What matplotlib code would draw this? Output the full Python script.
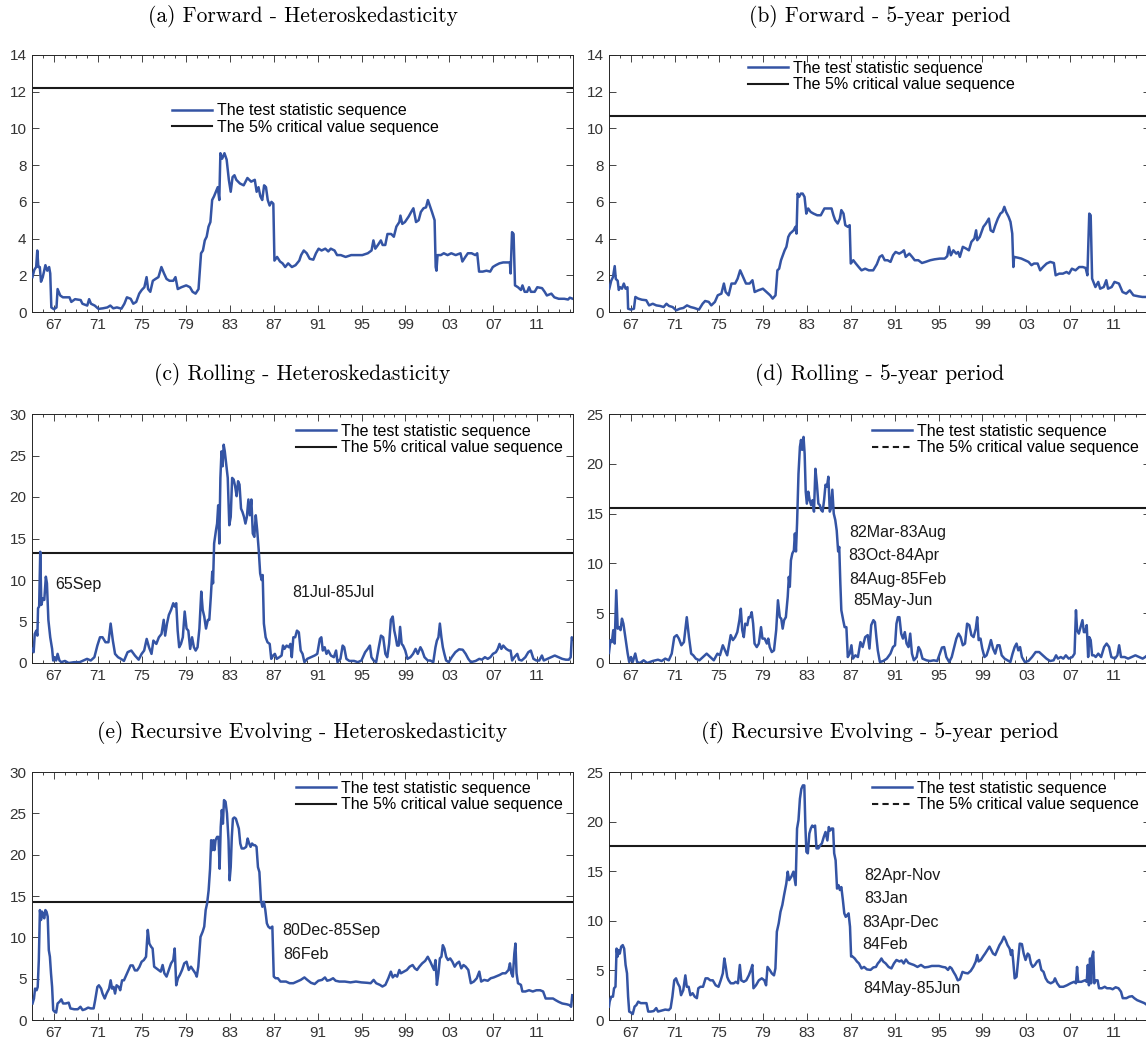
import numpy as np
import matplotlib
matplotlib.use('Agg')
from matplotlib import pyplot as plt
from matplotlib.lines import Line2D
from matplotlib.ticker import MultipleLocator, FixedLocator, FixedFormatter

plt.rcParams['font.family'] = ['Liberation Sans', 'DejaVu Sans']

# (year, statistic), one list per panel
fwd_het = [
    (1965.04, 1.9), (1965.21, 2.3), (1965.38, 2.45), (1965.48, 3.35), (1965.58, 2.45), (1965.71, 2.45), (1965.82, 1.65), (1965.98, 1.9), (1966.22, 2.55), (1966.39, 2.25),
    (1966.56, 2.45), (1966.66, 2.1), (1966.76, 0.25), (1967.0, 0.15), (1967.23, 0.25), (1967.33, 1.25), (1967.57, 0.9), (1967.81, 0.8), (1968.41, 0.8), (1968.58, 0.55),
    (1968.92, 0.7), (1969.43, 0.65), (1969.59, 0.45), (1970.03, 0.35), (1970.2, 0.7), (1970.37, 0.45), (1970.71, 0.35), (1971.05, 0.17), (1971.45, 0.2), (1971.86, 0.25),
    (1972.13, 0.35), (1972.4, 0.2), (1972.73, 0.25), (1973.14, 0.18), (1973.41, 0.45), (1973.64, 0.8), (1973.98, 0.72), (1974.22, 0.45), (1974.49, 0.55), (1974.76, 1.0),
    (1974.99, 1.2), (1975.23, 1.35), (1975.43, 1.9), (1975.57, 1.25), (1975.77, 1.1), (1976.0, 1.7), (1976.24, 1.8), (1976.51, 1.9), (1976.78, 2.45), (1977.02, 2.1),
    (1977.25, 1.8), (1977.52, 1.7), (1977.86, 1.7), (1978.06, 1.9), (1978.27, 1.25), (1978.6, 1.35), (1979.04, 1.45), (1979.38, 1.35), (1979.62, 1.1), (1979.89, 1.0),
    (1980.16, 1.25), (1980.39, 3.2), (1980.56, 3.35), (1980.73, 3.9), (1980.9, 4.1), (1981.07, 4.65), (1981.24, 4.9), (1981.4, 6.1), (1981.57, 6.3), (1981.74, 6.55),
    (1981.91, 6.8), (1982.05, 6.1), (1982.15, 8.65), (1982.31, 8.35), (1982.52, 8.65), (1982.72, 8.3), (1982.92, 7.2), (1983.09, 6.55), (1983.26, 7.35), (1983.43, 7.45),
    (1983.6, 7.2), (1983.93, 7.0), (1984.27, 6.9), (1984.61, 7.3), (1984.95, 7.1), (1985.28, 7.2), (1985.45, 6.55), (1985.62, 6.8), (1985.79, 6.3), (1985.96, 6.1),
    (1986.13, 6.9), (1986.3, 6.8), (1986.46, 6.1), (1986.63, 5.8), (1986.8, 6.0), (1986.97, 5.9), (1987.07, 2.8), (1987.31, 3.0), (1987.58, 2.75), (1987.81, 2.65),
    (1988.05, 2.45), (1988.32, 2.65), (1988.66, 2.45), (1988.99, 2.55), (1989.33, 2.8), (1989.5, 3.1), (1989.74, 3.35), (1990.01, 3.2), (1990.28, 2.9), (1990.61, 2.85),
    (1990.85, 3.2), (1991.09, 3.45), (1991.36, 3.35), (1991.7, 3.45), (1991.97, 3.3), (1992.2, 3.45), (1992.54, 3.35), (1992.77, 3.1), (1993.11, 3.1), (1993.55, 3.0),
    (1994.06, 3.1), (1994.56, 3.1), (1995.07, 3.1), (1995.57, 3.2), (1995.91, 3.35), (1996.08, 3.9), (1996.25, 3.45), (1996.49, 3.65), (1996.76, 3.9), (1996.92, 3.65),
    (1997.16, 3.65), (1997.36, 4.25), (1997.7, 4.25), (1997.94, 4.1), (1998.17, 4.65), (1998.44, 4.9), (1998.54, 5.25), (1998.71, 4.8), (1998.95, 4.9), (1999.29, 5.2),
    (1999.52, 5.45), (1999.72, 5.65), (1999.96, 4.9), (2000.2, 5.0), (2000.4, 5.45), (2000.64, 5.65), (2000.87, 5.7), (2001.04, 6.1), (2001.21, 5.8), (2001.41, 5.45),
    (2001.65, 5.0), (2001.75, 2.45), (2001.82, 2.25), (2001.92, 3.1), (2002.22, 3.1), (2002.49, 3.2), (2002.83, 3.1), (2003.17, 3.2), (2003.57, 3.1), (2004.01, 3.2),
    (2004.18, 2.75), (2004.45, 3.0), (2004.68, 3.2), (2005.02, 3.2), (2005.36, 3.1), (2005.53, 3.2), (2005.7, 2.2), (2006.03, 2.2), (2006.37, 2.25), (2006.71, 2.2),
    (2006.95, 2.45), (2007.22, 2.55), (2007.55, 2.65), (2007.89, 2.7), (2008.23, 2.7), (2008.5, 2.7), (2008.57, 2.1), (2008.7, 4.35), (2008.84, 4.25), (2008.97, 1.45),
    (2009.24, 1.35), (2009.51, 1.2), (2009.65, 1.45), (2009.85, 1.1), (2010.08, 1.1), (2010.25, 1.35), (2010.42, 1.1), (2010.76, 1.1), (2011.0, 1.35), (2011.43, 1.3),
    (2011.67, 1.1), (2011.87, 0.9), (2012.28, 1.0), (2012.55, 0.8), (2012.95, 0.72), (2013.46, 0.72), (2013.8, 0.68), (2013.96, 0.78), (2014.23, 0.72),
]

fwd_5y = [
    (1965.03, 1.27), (1965.2, 1.7), (1965.36, 1.9), (1965.52, 2.5), (1965.62, 1.8), (1965.79, 1.7), (1965.89, 1.2), (1966.02, 1.35), (1966.18, 1.27), (1966.35, 1.55),
    (1966.51, 1.27), (1966.68, 1.35), (1966.74, 0.18), (1967.0, 0.13), (1967.27, 0.18), (1967.4, 0.82), (1967.66, 0.73), (1967.99, 0.67), (1968.39, 0.64), (1968.65, 0.36),
    (1968.98, 0.45), (1969.31, 0.36), (1969.64, 0.33), (1969.97, 0.27), (1970.23, 0.45), (1970.46, 0.33), (1970.79, 0.27), (1971.12, 0.09), (1971.45, 0.18), (1971.77, 0.22),
    (1972.1, 0.36), (1972.43, 0.27), (1972.76, 0.22), (1973.19, 0.13), (1973.52, 0.45), (1973.75, 0.6), (1974.08, 0.55), (1974.31, 0.36), (1974.64, 0.55), (1974.9, 0.91),
    (1975.23, 1.0), (1975.46, 1.55), (1975.62, 1.09), (1975.89, 0.91), (1976.15, 1.55), (1976.48, 1.55), (1976.71, 1.82), (1976.94, 2.27), (1977.2, 1.91), (1977.47, 1.55),
    (1977.8, 1.55), (1978.06, 1.73), (1978.26, 1.09), (1978.59, 1.18), (1979.01, 1.27), (1979.34, 1.09), (1979.67, 0.91), (1979.9, 0.73), (1980.16, 0.91), (1980.33, 2.27),
    (1980.49, 2.36), (1980.66, 2.82), (1980.82, 3.09), (1980.99, 3.36), (1981.15, 3.55), (1981.32, 4.09), (1981.48, 4.27), (1981.65, 4.36), (1981.81, 4.45), (1981.97, 4.64),
    (1982.07, 4.27), (1982.17, 6.45), (1982.3, 6.27), (1982.47, 6.45), (1982.63, 6.45), (1982.8, 6.27), (1982.96, 5.36), (1983.13, 5.64), (1983.36, 5.45), (1983.62, 5.36),
    (1983.95, 5.27), (1984.28, 5.27), (1984.61, 5.64), (1984.94, 5.64), (1985.26, 5.64), (1985.43, 5.27), (1985.59, 5.0), (1985.82, 4.82), (1986.02, 5.09), (1986.15, 5.55),
    (1986.35, 5.36), (1986.51, 4.73), (1986.74, 4.64), (1986.91, 4.73), (1987.01, 2.64), (1987.24, 2.82), (1987.47, 2.64), (1987.73, 2.45), (1987.99, 2.27), (1988.32, 2.36),
    (1988.65, 2.27), (1989.05, 2.27), (1989.38, 2.6), (1989.64, 3.0), (1989.87, 3.09), (1990.1, 2.82), (1990.36, 2.82), (1990.63, 2.73), (1990.86, 3.09), (1991.09, 3.27),
    (1991.42, 3.18), (1991.68, 3.27), (1991.85, 3.36), (1992.01, 3.0), (1992.34, 3.18), (1992.6, 3.0), (1992.83, 2.82), (1993.16, 2.82), (1993.49, 2.67), (1993.82, 2.73),
    (1994.25, 2.82), (1994.64, 2.87), (1995.13, 2.91), (1995.56, 2.91), (1995.79, 3.04), (1995.95, 3.55), (1996.12, 3.09), (1996.35, 3.36), (1996.61, 3.18), (1996.78, 3.27),
    (1996.94, 3.0), (1997.21, 3.55), (1997.53, 3.45), (1997.76, 3.36), (1997.99, 3.82), (1998.26, 4.0), (1998.42, 4.45), (1998.52, 3.91), (1998.75, 4.09), (1999.08, 4.64),
    (1999.31, 4.82), (1999.58, 5.09), (1999.74, 4.45), (1999.97, 4.36), (2000.17, 4.73), (2000.4, 5.09), (2000.63, 5.36), (2000.82, 5.45), (2000.99, 5.73), (2001.15, 5.45),
    (2001.38, 5.18), (2001.55, 4.91), (2001.71, 4.27), (2001.81, 2.45), (2001.88, 3.0), (2002.21, 2.96), (2002.54, 2.91), (2002.87, 2.82), (2003.19, 2.73), (2003.46, 2.55),
    (2003.69, 2.64), (2004.02, 2.64), (2004.25, 2.27), (2004.51, 2.45), (2004.84, 2.64), (2005.17, 2.73), (2005.5, 2.67), (2005.66, 2.0), (2005.99, 2.09), (2006.32, 2.09),
    (2006.65, 2.18), (2006.88, 2.09), (2007.14, 2.36), (2007.47, 2.27), (2007.8, 2.45), (2008.13, 2.45), (2008.39, 2.4), (2008.55, 2.0), (2008.72, 5.36), (2008.85, 5.27),
    (2008.98, 1.82), (2009.28, 1.36), (2009.54, 1.64), (2009.71, 1.27), (2010.04, 1.36), (2010.27, 1.73), (2010.43, 1.27), (2010.76, 1.36), (2011.02, 1.64), (2011.42, 1.55),
    (2011.75, 1.09), (2012.08, 1.0), (2012.41, 1.18), (2012.74, 0.91), (2013.23, 0.85), (2013.56, 0.82), (2013.99, 0.82), (2014.23, 0.82),
]

roll_het = [
    (1965.05, 1.7), (1965.15, 1.3), (1965.25, 3.5), (1965.39, 3.9), (1965.49, 3.3), (1965.55, 6.6), (1965.65, 6.8), (1965.75, 13.4), (1965.85, 7.0), (1965.99, 7.8),
    (1966.12, 7.6), (1966.26, 10.4), (1966.36, 9.6), (1966.49, 5.2), (1966.66, 3.1), (1966.83, 1.7), (1966.93, 0.3), (1967.06, 0.7), (1967.2, 0.3), (1967.33, 1.1),
    (1967.5, 0.3), (1967.67, 0.1), (1968.0, 0.25), (1968.34, 0.0), (1968.84, 0.1), (1969.34, 0.1), (1969.68, 0.3), (1970.01, 0.5), (1970.35, 0.3), (1970.68, 0.7),
    (1970.95, 2.1), (1971.19, 3.1), (1971.42, 3.1), (1971.69, 2.5), (1971.96, 2.5), (1972.16, 4.75), (1972.36, 2.7), (1972.56, 1.1), (1972.83, 0.7), (1973.1, 0.5),
    (1973.37, 0.25), (1973.7, 1.3), (1974.04, 1.5), (1974.37, 0.9), (1974.71, 0.4), (1974.98, 1.1), (1975.21, 1.5), (1975.44, 2.9), (1975.65, 1.9), (1975.88, 1.1),
    (1976.05, 2.7), (1976.32, 2.3), (1976.55, 3.1), (1976.79, 3.5), (1976.99, 5.2), (1977.12, 3.3), (1977.29, 4.75), (1977.46, 5.8), (1977.66, 6.4), (1977.86, 7.2),
    (1977.99, 6.8), (1978.13, 7.2), (1978.26, 3.9), (1978.4, 1.9), (1978.56, 2.3), (1978.73, 3.1), (1978.9, 6.2), (1979.07, 4.15), (1979.23, 3.9), (1979.4, 1.7),
    (1979.57, 3.1), (1979.74, 1.9), (1979.9, 1.5), (1980.07, 1.9), (1980.24, 4.15), (1980.41, 8.6), (1980.54, 6.4), (1980.68, 5.6), (1980.84, 4.15), (1981.01, 5.2),
    (1981.14, 5.2), (1981.28, 8.0), (1981.41, 11.0), (1981.48, 9.6), (1981.58, 14.4), (1981.75, 16.0), (1981.85, 16.8), (1981.95, 19.0), (1982.05, 14.4), (1982.15, 22.3),
    (1982.25, 25.5), (1982.35, 23.7), (1982.45, 26.3), (1982.55, 25.5), (1982.69, 23.9), (1982.82, 22.3), (1982.96, 16.6), (1983.09, 17.6), (1983.22, 22.3), (1983.36, 22.1),
    (1983.49, 21.3), (1983.63, 20.1), (1983.76, 21.9), (1983.89, 21.5), (1984.03, 18.6), (1984.16, 18.2), (1984.3, 17.6), (1984.43, 16.8), (1984.56, 17.6), (1984.7, 19.7),
    (1984.83, 17.8), (1984.97, 19.7), (1985.1, 15.6), (1985.24, 15.2), (1985.37, 17.8), (1985.5, 16.0), (1985.64, 13.6), (1985.77, 10.8), (1985.9, 10.0), (1986.0, 10.6),
    (1986.11, 4.75), (1986.27, 3.1), (1986.44, 2.5), (1986.64, 2.3), (1986.78, 0.5), (1986.95, 0.9), (1987.11, 1.1), (1987.28, 0.5), (1987.52, 0.7), (1987.72, 0.9),
    (1987.85, 2.1), (1987.98, 1.7), (1988.18, 2.1), (1988.39, 1.9), (1988.52, 2.3), (1988.65, 0.7), (1988.79, 3.1), (1988.96, 3.1), (1989.12, 3.9), (1989.29, 3.7),
    (1989.46, 1.5), (1989.63, 1.1), (1989.8, 0.1), (1990.06, 0.5), (1990.4, 0.7), (1990.73, 0.9), (1990.97, 1.1), (1991.2, 2.9), (1991.34, 3.1), (1991.47, 1.5),
    (1991.64, 1.9), (1991.81, 1.1), (1991.97, 1.5), (1992.21, 0.9), (1992.48, 0.7), (1992.68, 1.5), (1992.81, 0.1), (1993.08, 0.5), (1993.28, 2.1), (1993.42, 1.9),
    (1993.62, 0.5), (1993.89, 0.25), (1994.32, 0.25), (1994.66, 0.1), (1994.99, 0.3), (1995.33, 1.3), (1995.56, 1.7), (1995.76, 2.1), (1995.9, 0.7), (1996.1, 0.3),
    (1996.33, 0.1), (1996.57, 1.9), (1996.77, 3.3), (1996.97, 3.1), (1997.17, 1.1), (1997.34, 0.7), (1997.51, 2.3), (1997.67, 5.2), (1997.84, 5.6), (1997.98, 3.9),
    (1998.11, 3.1), (1998.24, 2.1), (1998.38, 2.1), (1998.51, 4.35), (1998.65, 2.3), (1998.78, 2.1), (1998.98, 1.5), (1999.18, 0.5), (1999.45, 0.7), (1999.69, 1.1),
    (1999.92, 1.7), (2000.12, 1.1), (2000.36, 1.9), (2000.52, 1.5), (2000.73, 0.7), (2001.03, 0.3), (2001.26, 0.3), (2001.53, 0.1), (2001.73, 1.9), (2001.86, 2.7),
    (2002.0, 3.1), (2002.13, 4.75), (2002.27, 3.1), (2002.4, 1.9), (2002.54, 1.1), (2002.7, 0.3), (2002.94, 0.1), (2003.21, 0.7), (2003.54, 1.3), (2003.88, 1.65),
    (2004.21, 1.6), (2004.48, 1.1), (2004.72, 0.5), (2004.95, 0.1), (2005.39, 0.25), (2005.72, 0.5), (2005.96, 0.4), (2006.23, 0.7), (2006.49, 0.5), (2006.73, 0.7),
    (2006.96, 1.1), (2007.23, 1.3), (2007.4, 1.7), (2007.56, 2.3), (2007.73, 1.7), (2007.9, 2.1), (2008.17, 1.7), (2008.41, 1.5), (2008.57, 1.5), (2008.71, 0.3),
    (2008.91, 0.7), (2009.18, 1.1), (2009.34, 0.4), (2009.58, 0.3), (2009.91, 0.7), (2010.18, 1.3), (2010.41, 1.5), (2010.65, 0.5), (2010.92, 0.3), (2011.18, 0.3),
    (2011.42, 0.9), (2011.59, 0.3), (2011.92, 0.5), (2012.26, 0.7), (2012.59, 0.9), (2012.93, 0.7), (2013.27, 0.5), (2013.6, 0.4), (2013.87, 0.4), (2014.04, 0.7),
    (2014.14, 3.1), (2014.2, 2.9),
]

roll_5y = [
    (1965.0, 1.0), (1965.13, 2.3), (1965.26, 2.1), (1965.39, 3.3), (1965.52, 1.95), (1965.66, 7.3), (1965.79, 3.45), (1965.92, 3.6), (1966.05, 3.3),
    (1966.18, 4.45), (1966.31, 3.95), (1966.44, 2.95), (1966.57, 1.95), (1966.7, 0.95), (1966.84, 0.1), (1967.0, 0.6), (1967.16, 0.1), (1967.39, 0.95), (1967.56, 0.1),
    (1967.82, 0.0), (1968.15, 0.27), (1968.48, 0.0), (1968.97, 0.2), (1969.46, 0.33), (1969.79, 0.2), (1970.12, 0.44), (1970.44, 0.27), (1970.71, 0.94), (1970.94, 2.6),
    (1971.17, 2.8), (1971.36, 2.45), (1971.59, 1.78), (1971.82, 2.1), (1972.08, 4.6), (1972.28, 2.6), (1972.48, 0.94), (1972.67, 0.77), (1972.9, 0.44), (1973.23, 0.27),
    (1973.56, 0.6), (1973.89, 0.94), (1974.22, 0.6), (1974.54, 0.27), (1974.87, 0.94), (1975.1, 0.77), (1975.36, 1.78), (1975.56, 1.27), (1975.76, 0.77), (1975.95, 1.95),
    (1976.08, 2.8), (1976.28, 2.3), (1976.48, 2.6), (1976.68, 3.1), (1976.87, 4.3), (1977.0, 5.45), (1977.13, 3.3), (1977.27, 2.6), (1977.4, 3.95), (1977.59, 3.8),
    (1977.72, 4.6), (1977.86, 4.6), (1977.99, 5.1), (1978.12, 3.95), (1978.25, 1.95), (1978.45, 1.6), (1978.64, 1.95), (1978.84, 3.6), (1978.97, 2.45), (1979.17, 2.45),
    (1979.37, 1.95), (1979.5, 2.45), (1979.63, 1.6), (1979.82, 1.1), (1980.02, 1.27), (1980.22, 3.3), (1980.38, 6.3), (1980.55, 4.6), (1980.68, 4.45), (1980.81, 3.45),
    (1980.94, 4.3), (1981.1, 4.6), (1981.27, 6.65), (1981.37, 8.65), (1981.46, 7.65), (1981.56, 10.3), (1981.69, 11.0), (1981.83, 11.3), (1981.92, 13.0), (1982.02, 11.2),
    (1982.12, 14.0), (1982.25, 19.0), (1982.38, 21.7), (1982.48, 22.4), (1982.58, 21.4), (1982.71, 22.7), (1982.81, 21.0), (1982.91, 17.2), (1983.01, 16.0), (1983.14, 17.2),
    (1983.27, 16.35), (1983.4, 15.85), (1983.53, 16.35), (1983.66, 15.2), (1983.79, 19.5), (1983.93, 17.9), (1984.06, 16.0), (1984.19, 15.85), (1984.32, 15.35), (1984.45, 15.2),
    (1984.58, 16.35), (1984.71, 17.9), (1984.84, 17.7), (1984.97, 18.7), (1985.1, 15.2), (1985.2, 15.5), (1985.33, 17.4), (1985.46, 15.0), (1985.6, 14.35), (1985.73, 13.3),
    (1985.86, 11.2), (1985.96, 11.65), (1986.06, 8.0), (1986.15, 5.3), (1986.32, 4.3), (1986.45, 3.6), (1986.61, 3.6), (1986.74, 0.6), (1986.91, 0.94), (1987.07, 1.78),
    (1987.2, 0.44), (1987.43, 0.77), (1987.66, 0.6), (1987.89, 2.1), (1988.09, 1.6), (1988.32, 2.6), (1988.55, 2.8), (1988.71, 1.45), (1988.87, 3.8), (1989.07, 4.3),
    (1989.21, 4.1), (1989.34, 2.6), (1989.47, 1.27), (1989.66, 0.1), (1989.96, 0.2), (1990.29, 0.44), (1990.62, 0.94), (1990.85, 1.6), (1991.04, 1.78), (1991.17, 3.95),
    (1991.3, 4.6), (1991.44, 4.6), (1991.6, 2.95), (1991.76, 2.45), (1991.93, 3.1), (1992.09, 1.95), (1992.26, 1.6), (1992.42, 2.95), (1992.58, 0.94), (1992.75, 0.27),
    (1993.01, 0.6), (1993.18, 1.6), (1993.34, 1.27), (1993.54, 0.44), (1993.9, 0.27), (1994.23, 0.2), (1994.56, 0.27), (1994.88, 0.2), (1995.11, 0.94), (1995.31, 1.55),
    (1995.51, 1.6), (1995.71, 0.6), (1995.97, 0.1), (1996.2, 0.6), (1996.43, 1.6), (1996.62, 2.45), (1996.82, 2.95), (1997.01, 2.6), (1997.21, 1.78), (1997.41, 1.95),
    (1997.6, 3.95), (1997.8, 3.8), (1997.99, 2.8), (1998.19, 2.6), (1998.39, 3.45), (1998.52, 4.6), (1998.65, 2.3), (1998.82, 2.45), (1998.98, 1.45), (1999.18, 0.6),
    (1999.37, 0.77), (1999.57, 1.45), (1999.77, 2.3), (1999.96, 1.45), (2000.16, 0.94), (2000.36, 1.78), (2000.55, 1.78), (2000.75, 0.77), (2001.01, 0.44), (2001.28, 0.27),
    (2001.54, 0.1), (2001.74, 0.94), (2001.93, 1.6), (2002.1, 1.95), (2002.26, 1.27), (2002.42, 1.6), (2002.59, 0.6), (2002.85, 0.1), (2003.18, 0.2), (2003.51, 0.6),
    (2003.84, 1.1), (2004.16, 1.1), (2004.49, 0.77), (2004.82, 0.44), (2005.15, 0.2), (2005.47, 0.27), (2005.7, 0.77), (2005.87, 0.44), (2006.13, 0.6), (2006.36, 0.44),
    (2006.59, 0.77), (2006.85, 0.44), (2007.18, 0.6), (2007.38, 0.94), (2007.51, 5.3), (2007.61, 3.3), (2007.77, 2.95), (2007.93, 3.6), (2008.1, 4.3), (2008.23, 3.1),
    (2008.36, 3.1), (2008.49, 3.8), (2008.62, 0.6), (2008.72, 2.6), (2008.85, 2.3), (2008.98, 0.77), (2009.15, 0.77), (2009.31, 0.6), (2009.54, 0.94), (2009.8, 0.6),
    (2010.07, 1.6), (2010.3, 1.95), (2010.53, 1.6), (2010.73, 0.6), (2011.06, 0.44), (2011.28, 0.77), (2011.44, 1.78), (2011.61, 0.6), (2011.94, 0.6), (2012.26, 0.44),
    (2012.59, 0.6), (2012.92, 0.77), (2013.25, 0.6), (2013.58, 0.44), (2013.81, 0.6), (2014.0, 0.77), (2014.23, 0.7),
]

rec_het = [
    (1965.05, 2.0), (1965.18, 2.6), (1965.28, 3.8), (1965.42, 3.6), (1965.52, 4.0), (1965.62, 7.25), (1965.72, 13.3), (1965.82, 12.1), (1965.92, 13.1), (1966.02, 12.5),
    (1966.12, 12.3), (1966.22, 13.3), (1966.32, 13.1), (1966.43, 12.5), (1966.53, 8.45), (1966.63, 7.65), (1966.73, 5.65), (1966.83, 4.0), (1966.93, 1.2), (1967.06, 1.0),
    (1967.2, 0.9), (1967.33, 2.0), (1967.5, 2.2), (1967.67, 2.5), (1967.83, 2.0), (1968.07, 2.0), (1968.34, 2.1), (1968.5, 1.4), (1968.84, 1.3), (1969.17, 1.3),
    (1969.41, 1.6), (1969.61, 1.2), (1969.84, 1.3), (1970.11, 1.5), (1970.35, 1.4), (1970.61, 1.4), (1970.75, 2.4), (1970.95, 4.0), (1971.09, 4.2), (1971.29, 3.8),
    (1971.42, 3.2), (1971.62, 2.6), (1971.79, 3.2), (1972.02, 3.8), (1972.16, 4.8), (1972.29, 3.8), (1972.43, 4.0), (1972.56, 3.2), (1972.7, 4.2), (1972.9, 4.0),
    (1973.03, 3.6), (1973.2, 4.8), (1973.37, 4.8), (1973.57, 5.4), (1973.77, 6.0), (1973.97, 6.6), (1974.17, 6.6), (1974.37, 6.0), (1974.57, 6.0), (1974.77, 6.4),
    (1974.98, 7.05), (1975.18, 7.25), (1975.38, 7.65), (1975.54, 10.9), (1975.68, 9.25), (1975.85, 8.85), (1975.98, 8.65), (1976.12, 6.45), (1976.32, 6.25), (1976.52, 6.05),
    (1976.72, 5.85), (1976.89, 6.65), (1977.05, 5.65), (1977.25, 5.25), (1977.46, 6.05), (1977.66, 6.85), (1977.86, 7.25), (1977.99, 8.65), (1978.13, 4.2), (1978.29, 5.05),
    (1978.46, 5.45), (1978.66, 6.05), (1978.86, 6.85), (1979.07, 7.05), (1979.27, 6.05), (1979.47, 6.45), (1979.67, 6.05), (1979.87, 5.65), (1980.0, 5.25), (1980.14, 6.45),
    (1980.34, 10.05), (1980.54, 10.7), (1980.68, 11.3), (1980.81, 13.3), (1980.94, 14.1), (1981.08, 15.7), (1981.21, 18.3), (1981.31, 21.75), (1981.41, 20.55), (1981.51, 21.75),
    (1981.61, 20.55), (1981.71, 21.75), (1981.85, 22.15), (1981.98, 22.15), (1982.08, 18.3), (1982.18, 23.35), (1982.28, 25.4), (1982.38, 23.75), (1982.48, 26.6), (1982.62, 26.4),
    (1982.75, 25.0), (1982.89, 21.75), (1982.99, 16.9), (1983.09, 18.5), (1983.19, 22.15), (1983.29, 24.35), (1983.42, 24.5), (1983.56, 24.35), (1983.69, 23.75), (1983.83, 23.15),
    (1983.96, 21.35), (1984.09, 20.75), (1984.29, 20.75), (1984.5, 20.95), (1984.63, 21.95), (1984.77, 21.35), (1984.9, 20.95), (1985.03, 21.35), (1985.17, 21.15), (1985.3, 21.15),
    (1985.44, 20.95), (1985.57, 18.5), (1985.7, 17.9), (1985.84, 14.5), (1985.97, 13.7), (1986.11, 14.3), (1986.24, 13.3), (1986.38, 11.7), (1986.51, 11.3), (1986.68, 11.1),
    (1986.88, 11.3), (1987.01, 5.25), (1987.18, 5.05), (1987.38, 5.05), (1987.62, 4.65), (1987.85, 4.65), (1988.12, 4.65), (1988.45, 4.45), (1988.79, 4.45), (1989.12, 4.65),
    (1989.46, 4.85), (1989.8, 5.15), (1990.06, 4.85), (1990.4, 4.5), (1990.73, 4.35), (1991.07, 4.75), (1991.4, 4.85), (1991.67, 5.15), (1991.87, 4.75), (1992.14, 4.85),
    (1992.41, 5.05), (1992.64, 4.75), (1992.98, 4.65), (1993.48, 4.65), (1993.99, 4.55), (1994.49, 4.65), (1994.99, 4.55), (1995.5, 4.5), (1995.83, 4.45), (1996.1, 4.85),
    (1996.33, 4.45), (1996.67, 4.25), (1996.9, 4.05), (1997.17, 4.25), (1997.44, 5.05), (1997.67, 5.85), (1997.84, 5.15), (1998.04, 5.45), (1998.24, 5.25), (1998.44, 6.05),
    (1998.58, 5.65), (1998.85, 5.85), (1999.12, 6.05), (1999.38, 6.45), (1999.65, 6.65), (1999.85, 6.25), (2000.05, 6.05), (2000.26, 6.45), (2000.52, 6.85), (2000.79, 7.15),
    (2001.03, 7.65), (2001.26, 7.05), (2001.46, 6.45), (2001.6, 6.05), (2001.73, 7.25), (2001.86, 4.25), (2002.0, 5.65), (2002.13, 7.45), (2002.27, 7.65), (2002.4, 9.05),
    (2002.54, 8.65), (2002.7, 7.65), (2002.87, 7.25), (2003.07, 7.45), (2003.27, 7.05), (2003.48, 6.45), (2003.68, 6.85), (2003.88, 7.05), (2004.08, 6.25), (2004.28, 6.65),
    (2004.48, 6.45), (2004.72, 6.05), (2004.95, 4.45), (2005.22, 4.65), (2005.49, 5.05), (2005.72, 5.85), (2005.89, 4.65), (2006.16, 4.85), (2006.49, 4.75), (2006.76, 5.05),
    (2007.03, 5.15), (2007.3, 5.3), (2007.57, 5.45), (2007.84, 5.65), (2008.11, 5.65), (2008.38, 6.05), (2008.51, 6.85), (2008.64, 5.65), (2008.77, 5.25), (2008.91, 8.05),
    (2009.01, 9.25), (2009.11, 5.65), (2009.24, 4.45), (2009.51, 4.25), (2009.64, 3.45), (2009.91, 3.45), (2010.25, 3.6), (2010.59, 3.45), (2010.92, 3.6), (2011.26, 3.6),
    (2011.53, 3.45), (2011.76, 2.6), (2012.1, 2.6), (2012.43, 2.6), (2012.67, 2.4), (2012.94, 2.2), (2013.27, 2.0), (2013.68, 1.9), (2013.94, 1.8), (2014.08, 1.6),
    (2014.18, 3.0),
]

rec_5y = [
    (1965.0, 1.35), (1965.06, 1.85), (1965.2, 2.35), (1965.36, 2.35), (1965.46, 3.2), (1965.59, 3.35), (1965.69, 7.2), (1965.79, 6.4), (1965.88, 7.05), (1965.98, 6.7),
    (1966.11, 7.4), (1966.25, 7.55), (1966.38, 7.2), (1966.51, 5.55), (1966.64, 4.7), (1966.74, 2.35), (1966.84, 0.85), (1967.0, 0.75), (1967.16, 0.6), (1967.33, 1.35),
    (1967.49, 1.5), (1967.66, 1.85), (1967.89, 1.7), (1968.15, 1.7), (1968.41, 1.7), (1968.57, 0.85), (1968.8, 0.85), (1969.07, 0.9), (1969.3, 1.2), (1969.46, 0.85),
    (1969.79, 0.95), (1970.12, 1.05), (1970.44, 1.0), (1970.61, 1.2), (1970.77, 2.35), (1970.94, 4.0), (1971.1, 4.2), (1971.26, 3.7), (1971.43, 3.35), (1971.56, 2.5),
    (1971.76, 3.0), (1971.95, 4.5), (1972.08, 3.35), (1972.25, 3.35), (1972.41, 2.5), (1972.61, 2.7), (1972.81, 2.35), (1973.0, 2.2), (1973.13, 3.2), (1973.33, 3.35),
    (1973.56, 3.35), (1973.79, 4.2), (1973.99, 4.2), (1974.22, 4.0), (1974.45, 4.0), (1974.71, 3.5), (1974.97, 3.35), (1975.17, 4.0), (1975.36, 4.7), (1975.5, 6.2),
    (1975.63, 5.35), (1975.76, 4.35), (1975.89, 4.0), (1976.08, 3.7), (1976.35, 3.7), (1976.54, 3.85), (1976.74, 3.7), (1976.91, 5.55), (1977.04, 4.0), (1977.27, 3.85),
    (1977.5, 4.0), (1977.73, 4.5), (1977.92, 5.05), (1978.05, 5.55), (1978.15, 3.2), (1978.38, 3.5), (1978.64, 4.0), (1978.91, 4.2), (1979.14, 4.0), (1979.3, 3.5),
    (1979.43, 5.35), (1979.63, 5.05), (1979.82, 4.7), (1980.02, 4.5), (1980.15, 5.2), (1980.28, 8.9), (1980.45, 9.75), (1980.61, 10.9), (1980.78, 11.6), (1980.94, 12.6),
    (1981.14, 13.75), (1981.27, 14.95), (1981.4, 14.1), (1981.6, 14.45), (1981.79, 14.95), (1981.99, 13.6), (1982.12, 19.3), (1982.25, 20.15), (1982.38, 22.3), (1982.51, 23.3),
    (1982.65, 23.65), (1982.78, 23.65), (1982.88, 19.45), (1982.97, 16.95), (1983.1, 16.8), (1983.24, 18.8), (1983.37, 19.3), (1983.5, 19.6), (1983.63, 19.45), (1983.76, 19.6),
    (1983.89, 17.3), (1984.06, 17.3), (1984.22, 17.6), (1984.38, 17.8), (1984.55, 18.45), (1984.71, 18.95), (1984.88, 18.1), (1985.01, 19.45), (1985.14, 19.1), (1985.27, 19.3),
    (1985.4, 19.3), (1985.5, 16.8), (1985.63, 16.1), (1985.76, 13.25), (1985.89, 13.6), (1986.02, 13.1), (1986.15, 13.4), (1986.29, 12.1), (1986.42, 10.75), (1986.55, 10.4),
    (1986.68, 10.55), (1986.81, 10.75), (1986.94, 9.4), (1987.04, 6.4), (1987.17, 6.4), (1987.37, 6.2), (1987.57, 5.9), (1987.76, 5.7), (1987.99, 5.2), (1988.22, 5.35),
    (1988.48, 5.1), (1988.81, 5.05), (1989.07, 5.3), (1989.3, 5.35), (1989.47, 5.7), (1989.63, 5.9), (1989.8, 6.2), (1989.96, 5.9), (1990.19, 5.7), (1990.45, 5.35),
    (1990.71, 5.2), (1990.94, 5.7), (1991.17, 6.05), (1991.44, 5.9), (1991.63, 6.0), (1991.83, 5.7), (1992.03, 6.1), (1992.26, 5.75), (1992.49, 5.65), (1992.75, 5.55),
    (1993.08, 5.35), (1993.4, 5.55), (1993.73, 5.3), (1994.06, 5.35), (1994.39, 5.45), (1994.72, 5.45), (1995.04, 5.45), (1995.37, 5.35), (1995.63, 5.3), (1995.86, 5.05),
    (1996.03, 5.35), (1996.19, 5.2), (1996.36, 4.85), (1996.55, 4.5), (1996.75, 4.0), (1996.95, 4.1), (1997.18, 4.85), (1997.41, 4.75), (1997.67, 4.7), (1997.93, 4.95),
    (1998.16, 5.35), (1998.39, 5.9), (1998.52, 6.55), (1998.65, 5.9), (1998.85, 6.05), (1999.05, 6.4), (1999.24, 6.7), (1999.44, 7.05), (1999.64, 7.4), (1999.8, 7.05),
    (1999.96, 6.7), (2000.16, 6.55), (2000.36, 7.05), (2000.55, 7.55), (2000.75, 7.9), (2000.95, 8.4), (2001.11, 8.05), (2001.28, 7.55), (2001.47, 7.2), (2001.6, 6.55),
    (2001.7, 7.05), (2001.8, 5.9), (2001.93, 4.2), (2002.1, 4.35), (2002.26, 6.2), (2002.39, 7.7), (2002.59, 7.65), (2002.75, 6.7), (2002.92, 6.05), (2003.12, 6.7),
    (2003.25, 6.55), (2003.41, 5.7), (2003.57, 5.35), (2003.77, 5.55), (2003.97, 5.9), (2004.16, 6.05), (2004.36, 5.05), (2004.56, 4.85), (2004.75, 4.2), (2004.95, 3.85),
    (2005.21, 3.7), (2005.47, 3.85), (2005.6, 4.2), (2005.8, 3.7), (2006.03, 3.35), (2006.36, 3.35), (2006.69, 3.5), (2007.02, 3.7), (2007.34, 3.85), (2007.51, 3.7),
    (2007.61, 5.35), (2007.71, 3.85), (2008.0, 3.85), (2008.33, 4.0), (2008.49, 3.85), (2008.59, 5.55), (2008.69, 3.5), (2008.79, 6.2), (2008.89, 3.7), (2008.98, 6.4),
    (2009.08, 6.9), (2009.18, 3.7), (2009.31, 4.0), (2009.48, 4.0), (2009.61, 3.2), (2009.87, 3.2), (2010.13, 3.35), (2010.33, 3.2), (2010.62, 3.2), (2010.85, 3.1),
    (2011.12, 3.3), (2011.38, 3.2), (2011.61, 2.85), (2011.77, 2.2), (2012.1, 2.2), (2012.36, 2.35), (2012.62, 2.4), (2012.82, 2.2), (2013.08, 2.0), (2013.41, 1.85),
    (2013.74, 1.7), (2014.0, 1.5), (2014.23, 1.45),
]

series = [fwd_het, fwd_5y, roll_het, roll_5y, rec_het, rec_5y]
crit_values = [12.2, 10.7, 13.3, 15.6, 14.3, 17.5]
titles = ['(a) Forward - Heteroskedasticity', '(b) Forward - 5-year period',
          '(c) Rolling - Heteroskedasticity', '(d) Rolling - 5-year period',
          '(e) Recursive Evolving - Heteroskedasticity', '(f) Recursive Evolving - 5-year period']
y_max = [14, 14, 30, 25, 30, 25]
y_step = [2, 2, 5, 5, 5, 5]
dashed_crit = [False, False, False, True, False, True]
period_labels = [
    [],
    [],
    ['65Sep', '81Jul-85Jul'],
    ['82Mar-83Aug', '83Oct-84Apr', '84Aug-85Feb', '85May-Jun'],
    ['80Dec-85Sep', '86Feb'],
    ['82Apr-Nov', '83Jan', '83Apr-Dec', '84Feb', '84May-85Jun'],
]
year_ticks = list(range(1967, 2012, 4))
legend_names = ['The test statistic sequence', 'The 5% critical value sequence']

# layout (pixels of the 1146x1039 output)
W, H = 1146, 1039
col_left = [32, 609]
row_span = [(55, 312), (414, 663), (772, 1020)]
ax_w = 541
title_y = [17, 375, 733]
legend_anchor = [(0.259, 0.751), (0.257, 0.916), (0.488, 0.898),
                 (0.486, 0.898), (0.488, 0.901), (0.486, 0.901)]
label_pos = [
    [],
    [],
    [(1967.16, 9.4), (1988.72, 8.45)],
    [(1986.84, 13.07), (1986.75, 10.76), (1986.84, 8.38), (1987.24, 6.23)],
    [(1987.78, 10.87), (1987.85, 7.93)],
    [(1988.22, 14.6), (1988.25, 12.2), (1988.09, 9.8), (1988.09, 7.62), (1988.16, 3.19)],
]

blue = '#3454a4'
axcol = '#262626'

fig = plt.figure(figsize=(W / 100, H / 100), dpi=100)

for i in range(6):
    r, c = divmod(i, 2)
    top, bot = row_span[r]
    ax = fig.add_axes([col_left[c] / W, 1 - bot / H, ax_w / W, (bot - top) / H])
    t, v = np.array(series[i]).T
    ax.plot(t, v, color=blue, lw=1.8, zorder=3)
    ax.axhline(crit_values[i], color='#1a1a1a', lw=1.5, zorder=2)

    ax.set_xlim(1965.0, 2014.25)
    ax.set_ylim(0, y_max[i])
    ax.xaxis.set_major_locator(FixedLocator(year_ticks))
    ax.xaxis.set_major_formatter(FixedFormatter(['%02d' % (y % 100) for y in year_ticks]))
    ax.xaxis.set_minor_locator(MultipleLocator(1))
    ax.yaxis.set_major_locator(MultipleLocator(y_step[i]))
    ax.tick_params(which='both', direction='in', top=True, right=True,
                   color=axcol, labelcolor='#333333', labelsize=11, width=0.6)
    ax.tick_params(which='major', length=5)
    ax.tick_params(which='minor', length=2.5)
    ax.tick_params(axis='x', pad=4)
    ax.tick_params(axis='y', pad=4)
    for s in ax.spines.values():
        s.set_color(axcol)
        s.set_linewidth(0.7)

    handles = [Line2D([], [], color=blue, lw=1.8),
               Line2D([], [], color='#1a1a1a', lw=1.5,
                      ls=(0, (3, 2)) if dashed_crit[i] else '-')]
    ax.legend(handles, legend_names, loc='center left', bbox_to_anchor=legend_anchor[i],
              frameon=False, fontsize=11.5, handlelength=2.5, handletextpad=0.3,
              labelspacing=0.1, borderpad=0, borderaxespad=0)

    for txt, (x, y) in zip(period_labels[i], label_pos[i]):
        ax.text(x, y, txt, fontsize=11.5, color='#1a1a1a', ha='left', va='center')

    fig.text((col_left[c] + ax_w / 2) / W, 1 - title_y[r] / H, titles[i],
             family='cmr10', fontsize=15.5, ha='center', va='center')

fig.savefig('out.png', dpi=100)
